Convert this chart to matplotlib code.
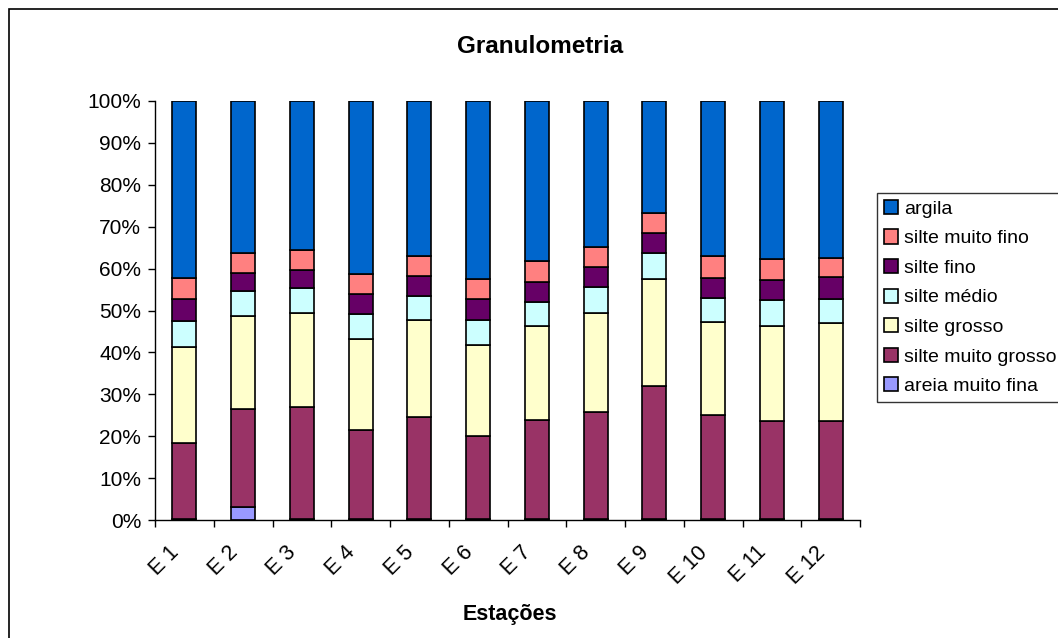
import matplotlib
matplotlib.use("Agg")
import matplotlib.pyplot as plt
from matplotlib.patches import Rectangle
from matplotlib.ticker import PercentFormatter
from matplotlib.transforms import ScaledTranslation
import numpy as np

plt.rcParams['font.family'] = ['Liberation Sans', 'DejaVu Sans']

estacoes = ["E 1", "E 2", "E 3", "E 4", "E 5", "E 6", "E 7", "E 8", "E 9", "E 10", "E 11", "E 12"]

# fractions per station (%), bottom to top
areia_muito_fina = [0.3, 3.1, 0.3, 0.3, 0.3, 0.3, 0.3, 0.3, 0.3, 0.3, 0.3, 0.3]
silte_muito_grosso = [18.1, 23.4, 26.6, 21.1, 24.4, 19.7, 23.6, 25.4, 31.8, 24.8, 23.3, 23.3]
silte_grosso = [23.0, 22.2, 22.5, 21.8, 23.0, 21.8, 22.3, 23.8, 25.4, 22.2, 22.6, 23.4]
silte_medio = [6.2, 5.9, 5.9, 5.9, 5.8, 5.9, 5.8, 6.2, 6.3, 5.8, 6.2, 5.7]
silte_fino = [5.1, 4.4, 4.4, 4.8, 4.7, 5.1, 4.8, 4.8, 4.8, 4.7, 4.8, 5.2]
silte_muito_fino = [5.1, 4.8, 4.8, 4.8, 4.9, 4.8, 5.1, 4.7, 4.7, 5.2, 5.1, 4.7]
argila = [42.2, 36.2, 35.5, 41.3, 36.9, 42.4, 38.1, 34.8, 26.7, 37.0, 37.7, 37.4]

series = [
    ("areia muito fina", areia_muito_fina, "#9999FF"),
    ("silte muito grosso", silte_muito_grosso, "#993366"),
    ("silte grosso", silte_grosso, "#FFFFCC"),
    ("silte médio", silte_medio, "#CCFFFF"),
    ("silte fino", silte_fino, "#660066"),
    ("silte muito fino", silte_muito_fino, "#FF8080"),
    ("argila", argila, "#0066CC"),
]

data = np.array([s[1] for s in series], dtype=float)
totals = data.sum(axis=0)
shares = data / totals * 100.0

fig = plt.figure(figsize=(10.58, 6.38), dpi=100)
ax = fig.add_axes([155 / 1058, 1 - 520 / 638, 705 / 1058, 419 / 638])

x = np.arange(len(estacoes))
bottom = np.zeros(len(estacoes))
handles = []
for (name, _, color), vals in zip(series, shares):
    h = ax.bar(x, vals, bottom=bottom, width=0.41, color=color,
               edgecolor="black", linewidth=1.2, label=name)
    handles.append(h)
    bottom += vals

ax.set_xlim(-0.5, len(estacoes) - 0.5)
ax.set_ylim(0, 100)
ax.set_yticks(np.arange(0, 101, 10))
ax.yaxis.set_major_formatter(PercentFormatter(decimals=0))
ax.tick_params(axis="y", labelsize=15, length=5, width=1, pad=5, direction="out")

ax.set_xticks(np.arange(-0.5, len(estacoes), 1.0))
ax.set_xticklabels([])
ax.set_xticks(x, minor=True)
ax.set_xticklabels(estacoes, minor=True, rotation=45, ha="right",
                   rotation_mode="anchor", fontsize=15.5)
ax.tick_params(axis="x", which="major", length=5, width=1, direction="out")
ax.tick_params(axis="x", which="minor", length=0, pad=16)
shift = ScaledTranslation(-16 / 100, 0, fig.dpi_scale_trans)
for lbl in ax.get_xticklabels(minor=True):
    lbl.set_transform(lbl.get_transform() + shift)

for side in ("top", "right"):
    ax.spines[side].set_visible(False)
for side in ("left", "bottom"):
    ax.spines[side].set_linewidth(1)

fig.text(540 / 1058, 1 - 53 / 638, "Granulometria", ha="center", va="baseline",
         fontsize=17.5, fontweight="bold")
fig.text(510 / 1058, 1 - 620 / 638, "Estações", ha="center", va="baseline",
         fontsize=15.5, fontweight="bold")

leg = fig.legend(handles[::-1], [s[0] for s in series][::-1],
                 loc="upper left", bbox_to_anchor=(877 / 1058, 1 - 193 / 638),
                 fontsize=14, frameon=True, fancybox=False, edgecolor="black",
                 handlelength=0.75, handleheight=0.75, handletextpad=0.3,
                 labelspacing=0.6, borderpad=0.35, borderaxespad=0)
leg.get_frame().set_linewidth(1)

fig.patches.append(Rectangle((9 / 1058, -0.1), 1.2, 1 - 9 / 638 + 0.1,
                             transform=fig.transFigure, fill=False,
                             edgecolor="black", linewidth=1.2))

fig.savefig("out.png", dpi=100, facecolor="white")
